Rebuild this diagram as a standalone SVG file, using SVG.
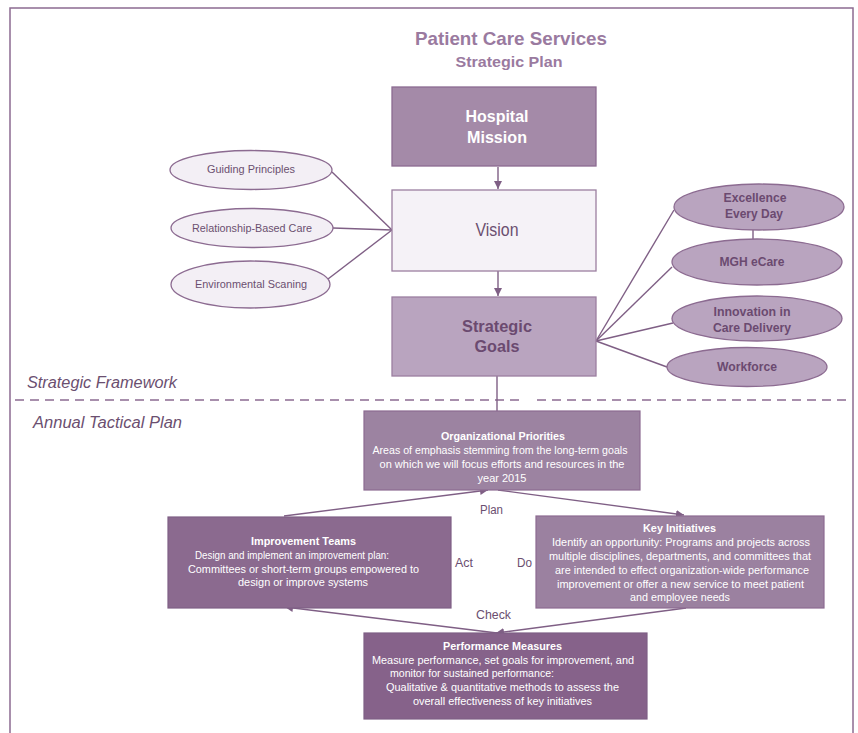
<svg xmlns="http://www.w3.org/2000/svg" width="858" height="733" viewBox="0 0 858 733">
<style>
text{font-family:"Liberation Sans",Arial,sans-serif}
.frame{fill:none;stroke:#8c6b91;stroke-width:1.5}
.con{fill:none;stroke:#7f5f85;stroke-width:1.4}
.dash{fill:none;stroke:#8c6b91;stroke-width:1.5;stroke-dasharray:9 6}
.lell{fill:#f3eff5;stroke:#8c6b91;stroke-width:1.3}
.rell{fill:#b9a4bf;stroke:#8c6b91;stroke-width:1.3}
.ltxt{font-size:11px;fill:#6b4f70;text-anchor:middle}
.rtxt{font-size:12.5px;font-weight:bold;fill:#6b4a70;text-anchor:middle}
.wt{font-size:11.5px;fill:#ffffff;text-anchor:middle}
.wtb{font-size:11.5px;font-weight:bold;fill:#ffffff;text-anchor:middle}
.cyc{font-size:12.5px;fill:#6b4f70;text-anchor:middle}
.sec{font-size:16px;font-style:italic;fill:#6b4f70}
</style>
<defs>
<marker id="ah" viewBox="0 0 10 10" refX="10" refY="5" markerWidth="8" markerHeight="8" markerUnits="userSpaceOnUse" orient="auto">
<path d="M0,0 L10,5 L0,10 z" fill="#7f5f85"/>
</marker>
</defs>
<rect class="frame" x="10" y="8" width="843" height="740"/>
<text x="511" y="45" font-size="19" font-weight="bold" fill="#9a7a9f" text-anchor="middle" textLength="192" lengthAdjust="spacingAndGlyphs">Patient Care Services</text>
<text x="509" y="67" font-size="15.5" font-weight="bold" fill="#9a7a9f" text-anchor="middle" textLength="107" lengthAdjust="spacingAndGlyphs">Strategic Plan</text>
<text class="sec" x="27" y="388" textLength="150" lengthAdjust="spacingAndGlyphs">Strategic Framework</text>
<text class="sec" x="33" y="428" textLength="149" lengthAdjust="spacingAndGlyphs">Annual Tactical Plan</text>
<path class="dash" d="M15,400 H522 M537,400 H852"/>
<g id="connectors">
<line class="con" x1="498" y1="167" x2="498" y2="189" marker-end="url(#ah)"/>
<line class="con" x1="498" y1="271" x2="498" y2="296" marker-end="url(#ah)"/>
<line class="con" x1="497" y1="376" x2="497" y2="411"/>
<line class="con" x1="332" y1="172" x2="392" y2="230"/>
<line class="con" x1="333" y1="228" x2="392" y2="230"/>
<line class="con" x1="328" y1="279" x2="392" y2="230"/>
<line class="con" x1="596" y1="341" x2="674" y2="210"/>
<line class="con" x1="596" y1="341" x2="672" y2="267"/>
<line class="con" x1="596" y1="341" x2="673" y2="323"/>
<line class="con" x1="596" y1="341" x2="667" y2="367"/>
<line class="con" x1="753" y1="230" x2="753" y2="240"/>
<line class="con" x1="284" y1="516" x2="488" y2="490" marker-end="url(#ah)"/>
<line class="con" x1="498" y1="490" x2="684" y2="515" marker-end="url(#ah)"/>
<line class="con" x1="686" y1="608" x2="496" y2="633" marker-end="url(#ah)"/>
<line class="con" x1="497" y1="633" x2="285" y2="607" marker-end="url(#ah)"/>
</g>
<g id="hospital-mission">
<rect x="392" y="87" width="204" height="79" fill="#a48aa8" stroke="#8c6b91" stroke-width="1.3"/>
<text x="497" y="122" font-size="17" font-weight="bold" fill="#ffffff" text-anchor="middle" textLength="63" lengthAdjust="spacingAndGlyphs">Hospital</text>
<text x="497" y="143" font-size="17" font-weight="bold" fill="#ffffff" text-anchor="middle" textLength="60" lengthAdjust="spacingAndGlyphs">Mission</text>
</g>
<g id="vision">
<rect x="392" y="190" width="204" height="81" fill="#f5f2f7" stroke="#9b7fa0" stroke-width="1.3"/>
<text x="497" y="236" font-size="18" fill="#6b4f70" text-anchor="middle" textLength="43" lengthAdjust="spacingAndGlyphs">Vision</text>
</g>
<g id="strategic-goals">
<rect x="392" y="297" width="204" height="79" fill="#b9a4bf" stroke="#9b7fa0" stroke-width="1.3"/>
<text x="497" y="332" font-size="17" font-weight="bold" fill="#6b4a70" text-anchor="middle" textLength="70" lengthAdjust="spacingAndGlyphs">Strategic</text>
<text x="497" y="352" font-size="17" font-weight="bold" fill="#6b4a70" text-anchor="middle" textLength="45" lengthAdjust="spacingAndGlyphs">Goals</text>
</g>
<g id="guiding-principles">
<ellipse class="lell" cx="251" cy="170" rx="81" ry="19.5"/>
<text class="ltxt" x="251" y="173" textLength="88" lengthAdjust="spacingAndGlyphs">Guiding Principles</text>
</g>
<g id="relationship-based-care">
<ellipse class="lell" cx="252" cy="228" rx="81" ry="19.5"/>
<text class="ltxt" x="252" y="232" textLength="120" lengthAdjust="spacingAndGlyphs">Relationship-Based Care</text>
</g>
<g id="environmental-scaning">
<ellipse class="lell" cx="250.5" cy="284.5" rx="79.5" ry="23.5"/>
<text class="ltxt" x="251" y="288" textLength="112" lengthAdjust="spacingAndGlyphs">Environmental Scaning</text>
</g>
<g id="excellence-every-day">
<ellipse class="rell" cx="759" cy="207" rx="85" ry="23"/>
<text class="rtxt" x="755" y="202" textLength="63" lengthAdjust="spacingAndGlyphs">Excellence</text>
<text class="rtxt" x="754" y="218" textLength="58" lengthAdjust="spacingAndGlyphs">Every Day</text>
</g>
<g id="mgh-ecare">
<ellipse class="rell" cx="757" cy="262" rx="85" ry="23"/>
<text class="rtxt" x="752" y="266" textLength="65" lengthAdjust="spacingAndGlyphs">MGH eCare</text>
</g>
<g id="innovation">
<ellipse class="rell" cx="757" cy="318.5" rx="85" ry="22.5"/>
<text class="rtxt" x="752" y="316" textLength="77" lengthAdjust="spacingAndGlyphs">Innovation in</text>
<text class="rtxt" x="752" y="332" textLength="78" lengthAdjust="spacingAndGlyphs">Care Delivery</text>
</g>
<g id="workforce">
<ellipse class="rell" cx="747" cy="367" rx="80" ry="19.5"/>
<text class="rtxt" x="747" y="371" textLength="60" lengthAdjust="spacingAndGlyphs">Workforce</text>
</g>
<g id="organizational-priorities">
<rect x="364" y="411" width="276" height="79" fill="#9c83a1" stroke="#8c6b91" stroke-width="1.2"/>
<text class="wtb" x="503" y="440" textLength="124" lengthAdjust="spacingAndGlyphs">Organizational Priorities</text>
<text class="wt" x="500" y="454" textLength="255" lengthAdjust="spacingAndGlyphs">Areas of emphasis stemming from the long-term goals</text>
<text class="wt" x="502" y="468" textLength="245" lengthAdjust="spacingAndGlyphs">on which we will focus efforts and resources in the</text>
<text class="wt" x="502" y="482" textLength="49" lengthAdjust="spacingAndGlyphs">year 2015</text>
</g>
<g id="improvement-teams">
<rect x="168" y="517" width="283" height="91" fill="#8b6a8f" stroke="#7f5f85" stroke-width="1.2"/>
<text class="wtb" x="303.5" y="545" textLength="105" lengthAdjust="spacingAndGlyphs">Improvement Teams</text>
<text class="wt" x="292" y="559" textLength="194" lengthAdjust="spacingAndGlyphs">Design and implement an improvement plan:</text>
<text class="wt" x="303.5" y="573" textLength="231" lengthAdjust="spacingAndGlyphs">Committees or short-term groups empowered to</text>
<text class="wt" x="303" y="586" textLength="130" lengthAdjust="spacingAndGlyphs">design or improve systems</text>
</g>
<g id="key-initiatives">
<rect x="536" y="516" width="288" height="92" fill="#9b81a0" stroke="#8c6b91" stroke-width="1.2"/>
<text class="wtb" x="679.5" y="532" textLength="73" lengthAdjust="spacingAndGlyphs">Key Initiatives</text>
<text class="wt" x="681" y="546" textLength="258" lengthAdjust="spacingAndGlyphs">Identify an opportunity: Programs and projects across</text>
<text class="wt" x="680" y="560" textLength="262" lengthAdjust="spacingAndGlyphs">multiple disciplines, departments, and committees that</text>
<text class="wt" x="682" y="574" textLength="254" lengthAdjust="spacingAndGlyphs">are intended to effect organization-wide performance</text>
<text class="wt" x="680.5" y="588" textLength="247" lengthAdjust="spacingAndGlyphs">improvement or offer a new service to meet patient</text>
<text class="wt" x="680" y="601" textLength="100" lengthAdjust="spacingAndGlyphs">and employee needs</text>
</g>
<g id="performance-measures">
<rect x="364" y="633" width="283" height="86" fill="#86628a" stroke="#7f5f85" stroke-width="1.2"/>
<text class="wtb" x="502.5" y="650" textLength="119" lengthAdjust="spacingAndGlyphs">Performance Measures</text>
<text class="wt" x="503" y="664" textLength="262" lengthAdjust="spacingAndGlyphs">Measure performance, set goals for improvement, and</text>
<text class="wt" x="472" y="677" textLength="164" lengthAdjust="spacingAndGlyphs">monitor for sustained performance:</text>
<text class="wt" x="502.5" y="691" textLength="233" lengthAdjust="spacingAndGlyphs">Qualitative &amp; quantitative methods to assess the</text>
<text class="wt" x="502.5" y="705" textLength="179" lengthAdjust="spacingAndGlyphs">overall effectiveness of key initiatives</text>
</g>
<g id="cycle-labels">
<text class="cyc" x="491.5" y="514" textLength="23" lengthAdjust="spacingAndGlyphs">Plan</text>
<text class="cyc" x="464" y="567" textLength="18" lengthAdjust="spacingAndGlyphs">Act</text>
<text class="cyc" x="524.5" y="567" textLength="15" lengthAdjust="spacingAndGlyphs">Do</text>
<text class="cyc" x="493.5" y="619" textLength="35" lengthAdjust="spacingAndGlyphs">Check</text>
</g>
</svg>
